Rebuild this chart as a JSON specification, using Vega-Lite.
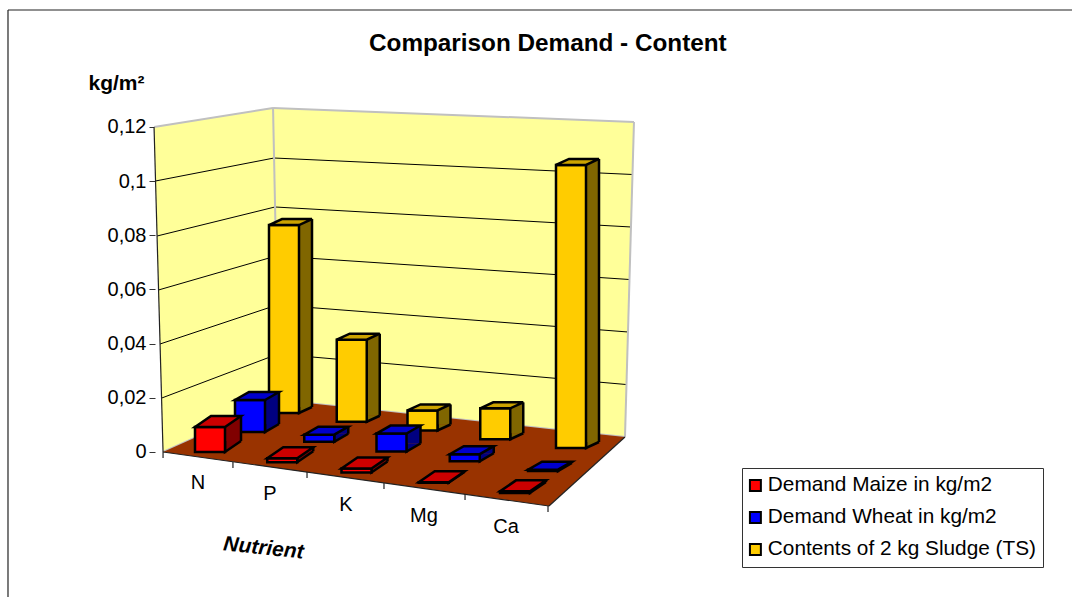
{"$schema":"https://vega.github.io/schema/vega-lite/v6.json","width":1072,"height":597,"autosize":{"type":"none"},"padding":0,"background":"white","config":{"font":"Liberation Sans","view":{"stroke":null}},
"title":{"text":"Comparison Demand - Content","anchor":"start","dx":369,"offset":-56,"fontSize":24.3,"fontWeight":"bold","font":"Liberation Sans","color":"black"},
"datasets":{"bars":[
{"nutrient":"N","series":"Demand Maize in kg/m2","value":0.0092},{"nutrient":"P","series":"Demand Maize in kg/m2","value":0.0015},{"nutrient":"K","series":"Demand Maize in kg/m2","value":0.0015},{"nutrient":"Mg","series":"Demand Maize in kg/m2","value":0.0002},{"nutrient":"Ca","series":"Demand Maize in kg/m2","value":0.0006},
{"nutrient":"N","series":"Demand Wheat in kg/m2","value":0.0118},{"nutrient":"P","series":"Demand Wheat in kg/m2","value":0.0026},{"nutrient":"K","series":"Demand Wheat in kg/m2","value":0.0066},{"nutrient":"Mg","series":"Demand Wheat in kg/m2","value":0.0026},{"nutrient":"Ca","series":"Demand Wheat in kg/m2","value":0.0005},
{"nutrient":"N","series":"Contents of 2 kg Sludge (TS)","value":0.0694},{"nutrient":"P","series":"Contents of 2 kg Sludge (TS)","value":0.0303},{"nutrient":"K","series":"Contents of 2 kg Sludge (TS)","value":0.0074},{"nutrient":"Mg","series":"Contents of 2 kg Sludge (TS)","value":0.0114},{"nutrient":"Ca","series":"Contents of 2 kg Sludge (TS)","value":0.1045}],
"wall":[{"fx":14.37,"top":0.12,"bottom":0.12},{"fx":15.21,"top":0.12052,"bottom":0},{"fx":25.47,"top":0.12702,"bottom":0.0182},{"fx":26.03,"top":0.12694,"bottom":0.0192},{"fx":58.3,"top":0.12196,"bottom":0.00554},{"fx":59.14,"top":0.12185,"bottom":0.12185}],
"floor":[{"fx":15.21,"top":0,"bottom":0},{"fx":26.03,"top":0.0192,"bottom":-0.00598},{"fx":51.21,"top":0.00853,"bottom":-0.01994},{"fx":58.3,"top":0.00554,"bottom":0.00554}],
"grid":[{"g":"0.02","fx":15.07,"v":0.0199},{"g":"0.02","fx":25.93,"v":0.03618},{"g":"0.02","fx":58.41,"v":0.02492},{"g":"0.04","fx":14.93,"v":0.03988},{"g":"0.04","fx":25.84,"v":0.05428},{"g":"0.04","fx":58.58,"v":0.04431},{"g":"0.06","fx":14.79,"v":0.05982},{"g":"0.06","fx":25.75,"v":0.07237},{"g":"0.06","fx":58.72,"v":0.06369},{"g":"0.08","fx":14.65,"v":0.07975},{"g":"0.08","fx":25.65,"v":0.09046},{"g":"0.08","fx":58.86,"v":0.08308},{"g":"0.1","fx":14.51,"v":0.10006},{"g":"0.1","fx":25.56,"v":0.10855},{"g":"0.1","fx":59.0,"v":0.10246}],
"greyEdges":[{"g":"a","fx":14.37,"v":0.12},{"g":"a","fx":25.47,"v":0.12702},{"g":"b","fx":25.47,"v":0.12702},{"g":"b","fx":59.14,"v":0.12185},{"g":"c","fx":59.14,"v":0.12185},{"g":"c","fx":58.3,"v":0.00554},{"g":"d","fx":25.47,"v":0.12702},{"g":"d","fx":26.03,"v":0.0192},{"g":"e","fx":15.21,"v":0},{"g":"e","fx":26.03,"v":0.0192},{"g":"f","fx":26.03,"v":0.0192},{"g":"f","fx":58.3,"v":0.00554}],
"darkEdges":[{"g":"left","fx":14.37,"v":0.12},{"g":"left","fx":15.21,"v":0},{"g":"front","fx":15.21,"v":0},{"g":"front","fx":51.21,"v":-0.01994},{"g":"side","fx":51.21,"v":-0.01994},{"g":"side","fx":58.3,"v":0.00554},{"g":"t0","fx":15.21,"v":0},{"g":"t0","fx":15.21,"v":-0.00222},{"g":"t1","fx":21.73,"v":-0.00369},{"g":"t1","fx":21.73,"v":-0.00591},{"g":"t2","fx":28.64,"v":-0.00738},{"g":"t2","fx":28.64,"v":-0.0096},{"g":"t3","fx":35.82,"v":-0.01145},{"g":"t3","fx":35.82,"v":-0.01366},{"g":"t4","fx":43.38,"v":-0.01551},{"g":"t4","fx":43.38,"v":-0.01772},{"g":"t5","fx":51.12,"v":-0.01994},{"g":"t5","fx":51.12,"v":-0.02215},{"g":"bl","fx":0.746,"v":0.1632},{"g":"bl","fx":0.746,"v":-0.05354},{"g":"bt","fx":0.746,"v":0.1632},{"g":"bt","fx":100,"v":0.1632}]},
"resolve":{"scale":{"x":"independent"},"axis":{"x":"independent","y":"independent"}},
"layer":[
{"data":{"name":"wall"},"mark":{"type":"area","fill":"#FFFF99","line":false},"encoding":{"x":{"field":"fx","type":"quantitative","scale":{"domain":[0,100]},"axis":null},"y":{"field":"top","type":"quantitative","scale":{"domain":[-0.05354,0.16689],"nice":false,"zero":false},"axis":{"values":[0,0.02,0.04,0.06,0.08,0.1,0.12],"labelExpr":"replace(format(datum.value,'~g'),'.',',')","offset":-155,"domain":false,"grid":false,"ticks":true,"tickSize":6,"tickColor":"#333333","labelFontSize":20,"labelColor":"black","labelPadding":3,"title":"kg/m²","titleFontSize":21,"titleFontWeight":"bold","titleColor":"black","titleAngle":0,"titleAlign":"center","titleBaseline":"middle","titleX":-39,"titleY":83}},"y2":{"field":"bottom"}}},
{"data":{"name":"grid"},"mark":{"type":"line","color":"black","strokeWidth":1},"encoding":{"x":{"field":"fx","type":"quantitative","scale":{"domain":[0,100]},"axis":null},"y":{"field":"v","type":"quantitative","axis":null},"detail":{"field":"g"}}},
{"data":{"name":"greyEdges"},"mark":{"type":"line","color":"#C0C0C0","strokeWidth":2},"encoding":{"x":{"field":"fx","type":"quantitative","scale":{"domain":[0,100]},"axis":null},"y":{"field":"v","type":"quantitative","axis":null},"detail":{"field":"g"}}},
{"data":{"name":"floor"},"mark":{"type":"area","fill":"#993300","line":false},"encoding":{"x":{"field":"fx","type":"quantitative","scale":{"domain":[0,100]},"axis":null},"y":{"field":"top","type":"quantitative","axis":null},"y2":{"field":"bottom"}}},
{"data":{"name":"darkEdges"},"mark":{"type":"line","color":"#222222","strokeWidth":1.2},"encoding":{"x":{"field":"fx","type":"quantitative","scale":{"domain":[0,100]},"axis":null},"y":{"field":"v","type":"quantitative","axis":null},"detail":{"field":"g"}}},

{"data":{"name":"bars"},"transform":[{"filter":"datum.series==='Contents of 2 kg Sludge (TS)'"}],"mark":{"type":"bar","width":30,"xOffset":{"expr":"[0,-4,-5,-4,0][indexof(['N','P','K','Mg','Ca'],datum.nutrient)]+13"},"yOffset":{"expr":"indexof(['N','P','K','Mg','Ca'],datum.nutrient)*8.75-45"},"y2Offset":{"expr":"indexof(['N','P','K','Mg','Ca'],datum.nutrient)*8.75-45"},"fill":"#806600"},"encoding":{"x":{"field":"nutrient","type":"nominal","scale":{"type":"point","domain":["N","P","K","Mg","Ca"],"range":[284,571],"padding":0},"axis":null},"y":{"field":"value","type":"quantitative","stack":null,"axis":null},"y2":{"datum":0}}},
{"data":{"name":"bars"},"transform":[{"filter":"datum.series==='Contents of 2 kg Sludge (TS)'"}],"mark":{"type":"bar","width":2.5,"xOffset":{"expr":"[0,-4,-5,-4,0][indexof(['N','P','K','Mg','Ca'],datum.nutrient)]+28"},"yOffset":{"expr":"indexof(['N','P','K','Mg','Ca'],datum.nutrient)*8.75-45"},"y2Offset":{"expr":"indexof(['N','P','K','Mg','Ca'],datum.nutrient)*8.75-45"},"fill":"black"},"encoding":{"x":{"field":"nutrient","type":"nominal","scale":{"type":"point","domain":["N","P","K","Mg","Ca"],"range":[284,571],"padding":0},"axis":null},"y":{"field":"value","type":"quantitative","stack":null,"axis":null},"y2":{"datum":0}}},
{"data":{"name":"bars"},"transform":[{"filter":"datum.series==='Contents of 2 kg Sludge (TS)'"}],"mark":{"type":"point","shape":"M15,-6 L15,0 L28,-6","size":4,"filled":true,"fill":"#806600","stroke":"black","strokeWidth":2.5,"opacity":1,"xOffset":{"expr":"[0,-4,-5,-4,0][indexof(['N','P','K','Mg','Ca'],datum.nutrient)]"},"yOffset":{"expr":"indexof(['N','P','K','Mg','Ca'],datum.nutrient)*8.75-39"}},"encoding":{"x":{"field":"nutrient","type":"nominal","scale":{"type":"point","domain":["N","P","K","Mg","Ca"],"range":[284,571],"padding":0},"axis":null},"y":{"datum":0,"type":"quantitative","axis":null}}},
{"data":{"name":"bars"},"transform":[{"filter":"datum.series==='Contents of 2 kg Sludge (TS)'"}],"mark":{"type":"bar","width":30,"xOffset":{"expr":"[0,-4,-5,-4,0][indexof(['N','P','K','Mg','Ca'],datum.nutrient)]"},"yOffset":{"expr":"indexof(['N','P','K','Mg','Ca'],datum.nutrient)*8.75-39"},"y2Offset":{"expr":"indexof(['N','P','K','Mg','Ca'],datum.nutrient)*8.75-39"},"stroke":"black","strokeWidth":2.5},"encoding":{"x":{"field":"nutrient","type":"nominal","scale":{"type":"point","domain":["N","P","K","Mg","Ca"],"range":[284,571],"padding":0},"axis":null},"y":{"field":"value","type":"quantitative","stack":null,"axis":null},"y2":{"datum":0},"color":{"field":"series","type":"nominal","scale":{"domain":["Demand Maize in kg/m2","Demand Wheat in kg/m2","Contents of 2 kg Sludge (TS)"],"range":["#FF0000","#0000FF","#FFCC00"]},"legend":{"orient":"none","legendX":742,"legendY":468,"title":null,"symbolType":"square","symbolSize":120,"symbolStrokeColor":"black","symbolStrokeWidth":2,"symbolOffset":-4,"labelFontSize":20.8,"labelColor":"black","labelLimit":400,"labelOffset":2,"rowPadding":10,"padding":7,"strokeColor":"#333333","fillColor":"white"}}}},
{"data":{"name":"bars"},"transform":[{"filter":"datum.series==='Contents of 2 kg Sludge (TS)'"}],"mark":{"type":"point","shape":"M-15,0 L15,0 L28,-6 L-2,-6 Z","size":4,"filled":true,"fill":"#CCA300","stroke":"black","strokeWidth":2.5,"opacity":1,"xOffset":{"expr":"[0,-4,-5,-4,0][indexof(['N','P','K','Mg','Ca'],datum.nutrient)]"},"yOffset":{"expr":"indexof(['N','P','K','Mg','Ca'],datum.nutrient)*8.75-39"}},"encoding":{"x":{"field":"nutrient","type":"nominal","scale":{"type":"point","domain":["N","P","K","Mg","Ca"],"range":[284,571],"padding":0},"axis":null},"y":{"field":"value","type":"quantitative","axis":null}}},

{"data":{"name":"bars"},"transform":[{"filter":"datum.series==='Demand Wheat in kg/m2'"}],"mark":{"type":"bar","width":30,"xOffset":{"expr":"[0,-4,-5,-5,0][indexof(['N','P','K','Mg','Ca'],datum.nutrient)]+14"},"yOffset":{"expr":"indexof(['N','P','K','Mg','Ca'],datum.nutrient)*9.75-28"},"y2Offset":{"expr":"indexof(['N','P','K','Mg','Ca'],datum.nutrient)*9.75-28"},"fill":"#000080"},"encoding":{"x":{"field":"nutrient","type":"nominal","scale":{"type":"point","domain":["N","P","K","Mg","Ca"],"range":[250,543],"padding":0},"axis":null},"y":{"field":"value","type":"quantitative","stack":null,"axis":null},"y2":{"datum":0}}},
{"data":{"name":"bars"},"transform":[{"filter":"datum.series==='Demand Wheat in kg/m2'"}],"mark":{"type":"bar","width":2.5,"xOffset":{"expr":"[0,-4,-5,-5,0][indexof(['N','P','K','Mg','Ca'],datum.nutrient)]+29"},"yOffset":{"expr":"indexof(['N','P','K','Mg','Ca'],datum.nutrient)*9.75-28"},"y2Offset":{"expr":"indexof(['N','P','K','Mg','Ca'],datum.nutrient)*9.75-28"},"fill":"black"},"encoding":{"x":{"field":"nutrient","type":"nominal","scale":{"type":"point","domain":["N","P","K","Mg","Ca"],"range":[250,543],"padding":0},"axis":null},"y":{"field":"value","type":"quantitative","stack":null,"axis":null},"y2":{"datum":0}}},
{"data":{"name":"bars"},"transform":[{"filter":"datum.series==='Demand Wheat in kg/m2'"}],"mark":{"type":"point","shape":"M15,-8 L15,0 L29,-8","size":4,"filled":true,"fill":"#000080","stroke":"black","strokeWidth":2.5,"opacity":1,"xOffset":{"expr":"[0,-4,-5,-5,0][indexof(['N','P','K','Mg','Ca'],datum.nutrient)]"},"yOffset":{"expr":"indexof(['N','P','K','Mg','Ca'],datum.nutrient)*9.75-20"}},"encoding":{"x":{"field":"nutrient","type":"nominal","scale":{"type":"point","domain":["N","P","K","Mg","Ca"],"range":[250,543],"padding":0},"axis":null},"y":{"datum":0,"type":"quantitative","axis":null}}},
{"data":{"name":"bars"},"transform":[{"filter":"datum.series==='Demand Wheat in kg/m2'"}],"mark":{"type":"bar","width":30,"xOffset":{"expr":"[0,-4,-5,-5,0][indexof(['N','P','K','Mg','Ca'],datum.nutrient)]"},"yOffset":{"expr":"indexof(['N','P','K','Mg','Ca'],datum.nutrient)*9.75-20"},"y2Offset":{"expr":"indexof(['N','P','K','Mg','Ca'],datum.nutrient)*9.75-20"},"stroke":"black","strokeWidth":2.5},"encoding":{"x":{"field":"nutrient","type":"nominal","scale":{"type":"point","domain":["N","P","K","Mg","Ca"],"range":[250,543],"padding":0},"axis":null},"y":{"field":"value","type":"quantitative","stack":null,"axis":null},"y2":{"datum":0},"color":{"field":"series","type":"nominal"}}},
{"data":{"name":"bars"},"transform":[{"filter":"datum.series==='Demand Wheat in kg/m2'"}],"mark":{"type":"point","shape":"M-15,0 L15,0 L29,-8 L-1,-8 Z","size":4,"filled":true,"fill":"#0000CC","stroke":"black","strokeWidth":2.5,"opacity":1,"xOffset":{"expr":"[0,-4,-5,-5,0][indexof(['N','P','K','Mg','Ca'],datum.nutrient)]"},"yOffset":{"expr":"indexof(['N','P','K','Mg','Ca'],datum.nutrient)*9.75-20"}},"encoding":{"x":{"field":"nutrient","type":"nominal","scale":{"type":"point","domain":["N","P","K","Mg","Ca"],"range":[250,543],"padding":0},"axis":null},"y":{"field":"value","type":"quantitative","axis":null}}},

{"data":{"name":"bars"},"transform":[{"filter":"datum.series==='Demand Maize in kg/m2'"}],"mark":{"type":"bar","width":30,"xOffset":{"expr":"[0,-4,-6,-5,0][indexof(['N','P','K','Mg','Ca'],datum.nutrient)]+16"},"yOffset":{"expr":"indexof(['N','P','K','Mg','Ca'],datum.nutrient)*10.25-11"},"y2Offset":{"expr":"indexof(['N','P','K','Mg','Ca'],datum.nutrient)*10.25-11"},"fill":"#800000"},"encoding":{"x":{"field":"nutrient","type":"nominal","scale":{"type":"point","domain":["N","P","K","Mg","Ca"],"range":[210,515],"padding":0},"axis":null},"y":{"field":"value","type":"quantitative","stack":null,"axis":null},"y2":{"datum":0}}},
{"data":{"name":"bars"},"transform":[{"filter":"datum.series==='Demand Maize in kg/m2'"}],"mark":{"type":"bar","width":2.5,"xOffset":{"expr":"[0,-4,-6,-5,0][indexof(['N','P','K','Mg','Ca'],datum.nutrient)]+31"},"yOffset":{"expr":"indexof(['N','P','K','Mg','Ca'],datum.nutrient)*10.25-11"},"y2Offset":{"expr":"indexof(['N','P','K','Mg','Ca'],datum.nutrient)*10.25-11"},"fill":"black"},"encoding":{"x":{"field":"nutrient","type":"nominal","scale":{"type":"point","domain":["N","P","K","Mg","Ca"],"range":[210,515],"padding":0},"axis":null},"y":{"field":"value","type":"quantitative","stack":null,"axis":null},"y2":{"datum":0}}},
{"data":{"name":"bars"},"transform":[{"filter":"datum.series==='Demand Maize in kg/m2'"}],"mark":{"type":"point","shape":"M15,-11 L15,0 L31,-11","size":4,"filled":true,"fill":"#800000","stroke":"black","strokeWidth":2.5,"opacity":1,"xOffset":{"expr":"[0,-4,-6,-5,0][indexof(['N','P','K','Mg','Ca'],datum.nutrient)]"},"yOffset":{"expr":"indexof(['N','P','K','Mg','Ca'],datum.nutrient)*10.25"}},"encoding":{"x":{"field":"nutrient","type":"nominal","scale":{"type":"point","domain":["N","P","K","Mg","Ca"],"range":[210,515],"padding":0},"axis":null},"y":{"datum":0,"type":"quantitative","axis":null}}},
{"data":{"name":"bars"},"transform":[{"filter":"datum.series==='Demand Maize in kg/m2'"}],"mark":{"type":"bar","width":30,"xOffset":{"expr":"[0,-4,-6,-5,0][indexof(['N','P','K','Mg','Ca'],datum.nutrient)]"},"yOffset":{"expr":"indexof(['N','P','K','Mg','Ca'],datum.nutrient)*10.25"},"y2Offset":{"expr":"indexof(['N','P','K','Mg','Ca'],datum.nutrient)*10.25"},"stroke":"black","strokeWidth":2.5},"encoding":{"x":{"field":"nutrient","type":"nominal","scale":{"type":"point","domain":["N","P","K","Mg","Ca"],"range":[210,515],"padding":0},"axis":null},"y":{"field":"value","type":"quantitative","stack":null,"axis":null},"y2":{"datum":0},"color":{"field":"series","type":"nominal"}}},
{"data":{"name":"bars"},"transform":[{"filter":"datum.series==='Demand Maize in kg/m2'"}],"mark":{"type":"point","shape":"M-15,0 L15,0 L31,-11 L1,-11 Z","size":4,"filled":true,"fill":"#CC0000","stroke":"black","strokeWidth":2.5,"opacity":1,"xOffset":{"expr":"[0,-4,-6,-5,0][indexof(['N','P','K','Mg','Ca'],datum.nutrient)]"},"yOffset":{"expr":"indexof(['N','P','K','Mg','Ca'],datum.nutrient)*10.25"}},"encoding":{"x":{"field":"nutrient","type":"nominal","scale":{"type":"point","domain":["N","P","K","Mg","Ca"],"range":[210,515],"padding":0},"axis":null},"y":{"field":"value","type":"quantitative","axis":null}}},

{"data":{"name":"bars"},"transform":[{"filter":"datum.series==='Demand Maize in kg/m2'"}],"mark":{"type":"text","fontSize":20,"color":"black","align":"center","baseline":"middle","xOffset":{"expr":"[0,-5,-6,-5,0][indexof(['N','P','K','Mg','Ca'],datum.nutrient)]"},"yOffset":{"expr":"indexof(['N','P','K','Mg','Ca'],datum.nutrient)*11+31"}},"encoding":{"text":{"field":"nutrient","type":"nominal"},"x":{"field":"nutrient","type":"nominal","scale":{"type":"point","domain":["N","P","K","Mg","Ca"],"range":[198,506],"padding":0},"axis":{"title":"Nutrient","labels":false,"ticks":false,"domain":false,"grid":false,"titleFontSize":21,"titleFontWeight":"bold","titleFontStyle":"italic","titleColor":"black","titleAngle":6,"titleAlign":"center","titleBaseline":"middle","titleX":263,"titleY":-49}},"y":{"datum":0,"type":"quantitative","axis":null}}}
]}
